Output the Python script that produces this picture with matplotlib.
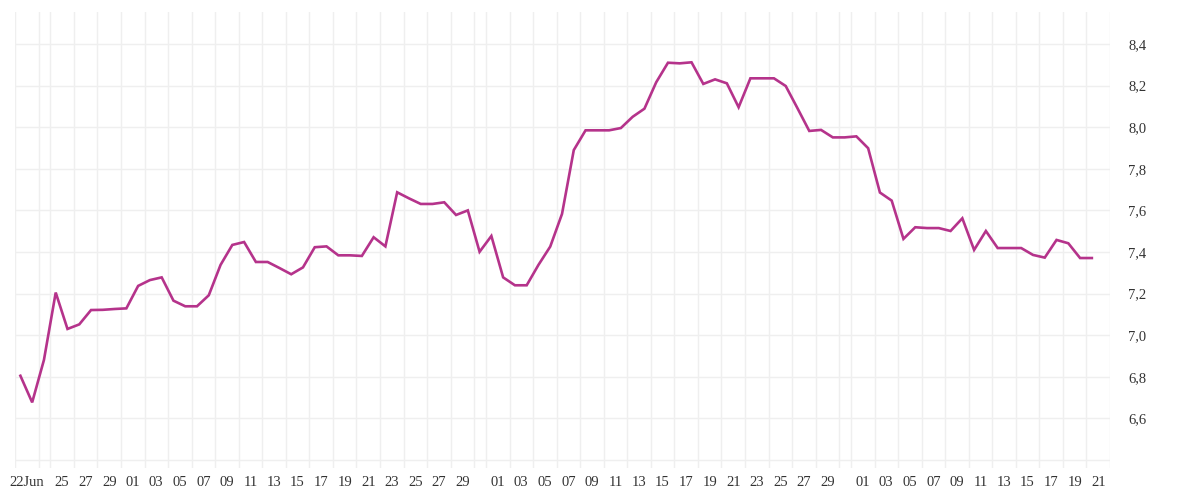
import numpy as np
import pandas as pd
import matplotlib
matplotlib.use('Agg')
import matplotlib.pyplot as plt
import matplotlib.dates as mdates
from matplotlib.ticker import FixedLocator, FuncFormatter

# Daily values, 21 Jun -> 20 Sep
start_date = '2023-06-21 11:00'
values = [
    6.805, 6.677, 6.881, 7.205, 7.030, 7.052, 7.121, 7.122, 7.126, 7.129,
    7.237, 7.265, 7.278, 7.166, 7.139, 7.139, 7.192, 7.338, 7.434, 7.448,
    7.352, 7.352, 7.323, 7.293, 7.326, 7.423, 7.427, 7.384, 7.384, 7.381,
    7.471, 7.427, 7.687, 7.658, 7.631, 7.631, 7.639, 7.578, 7.600, 7.401,
    7.477, 7.278, 7.240, 7.240, 7.338, 7.426, 7.583, 7.890, 7.985, 7.985,
    7.985, 7.996, 8.050, 8.089, 8.216, 8.310, 8.307, 8.312, 8.208, 8.230,
    8.211, 8.096, 8.235, 8.235, 8.235, 8.198, 8.091, 7.982, 7.987, 7.951,
    7.951, 7.956, 7.899, 7.686, 7.647, 7.463, 7.519, 7.515, 7.515, 7.501,
    7.562, 7.410, 7.501, 7.419, 7.419, 7.419, 7.386, 7.373, 7.458, 7.442,
    7.371, 7.371,
]
dates = pd.date_range(start_date, periods=len(values), freq='D')

# x tick labels
tick_dates = (['2023-06-22', '2023-06-25', '2023-06-27', '2023-06-29']
              + ['2023-07-%02d' % d for d in range(1, 30, 2)]
              + ['2023-08-%02d' % d for d in range(1, 30, 2)]
              + ['2023-09-%02d' % d for d in range(1, 22, 2)])
tick_labels = ['22Jun'] + [d[-2:] for d in tick_dates[1:]]

y_labels = [6.6, 6.8, 7.0, 7.2, 7.4, 7.6, 7.8, 8.0, 8.2, 8.4]

line_color = '#b5338b'
grid_color = '#efefef'
text_color = '#333333'

fig = plt.figure(figsize=(12, 5), dpi=100)
ax = fig.add_axes([15 / 1200, 1 - 468 / 500, (1110 - 15) / 1200, (468 - 12) / 500])

ax.plot(dates, values, color=line_color, linewidth=1.9, solid_joinstyle='miter')

ax.set_xlim(pd.Timestamp('2023-06-21'), pd.Timestamp('2023-09-22'))
ax.set_ylim(8.4 - (468 - 44) / 208, 8.4 + 32 / 208)

# grid: daily verticals, 0.2 horizontals
ax.xaxis.set_minor_locator(mdates.DayLocator())
ax.xaxis.set_major_locator(FixedLocator(mdates.date2num(pd.to_datetime(tick_dates))))
ax.set_xticklabels(tick_labels)
ax.grid(True, which='minor', axis='x', color=grid_color, linewidth=1)

ax.yaxis.set_major_locator(FixedLocator(np.round(np.arange(6.4, 8.61, 0.2), 1)))
ax.yaxis.set_major_formatter(FuncFormatter(
    lambda v, p: ('%.1f' % v).replace('.', ',') if round(v, 1) in y_labels else ''))
ax.grid(True, which='major', axis='y', color=grid_color, linewidth=1)
ax.set_axisbelow(True)

ax.yaxis.tick_right()
for s in ax.spines.values():
    s.set_visible(False)
ax.tick_params(axis='both', which='both', length=0, colors=text_color, labelsize=10.5)
ax.tick_params(axis='y', pad=13)
ax.tick_params(axis='x', pad=6)
for lbl in ax.get_xticklabels() + ax.get_yticklabels():
    lbl.set_family('Liberation Serif')

fig.savefig('out.png', dpi=100, facecolor='white')
